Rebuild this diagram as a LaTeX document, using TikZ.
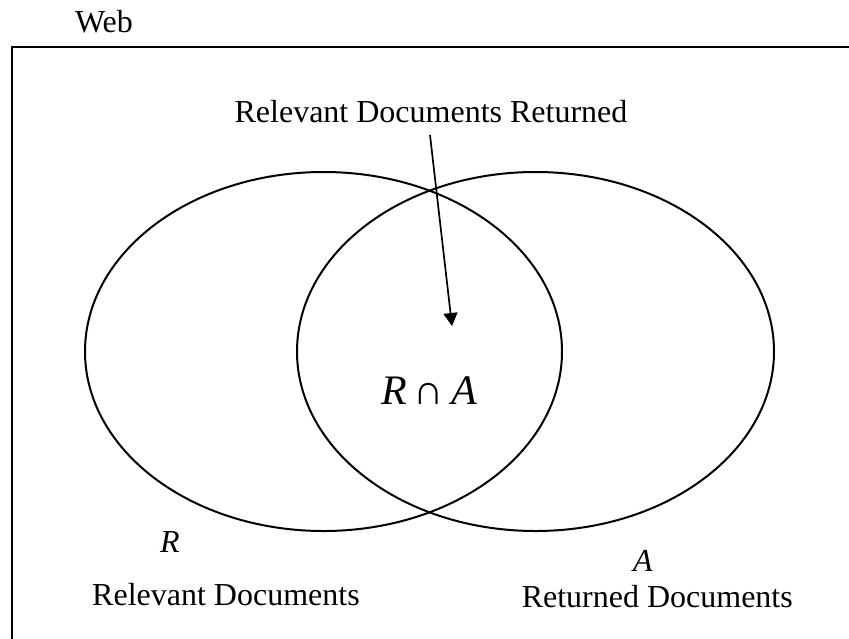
\documentclass[tikz,border=0pt]{standalone}
\usepackage{fontspec}
\setmainfont{Liberation Serif}
\usetikzlibrary{shapes.geometric,arrows.meta}
\begin{document}
\begin{tikzpicture}[x=1pt,y=-1pt,
  lbl/.style={inner sep=0pt,font=\fontsize{32}{38}\selectfont},
  setell/.style={draw,line width=2pt,ellipse,inner sep=0pt,minimum width=477pt,minimum height=359pt},
  ptr/.style={line width=1.7pt,-{Triangle[length=13pt,width=14pt]}}]
\useasboundingbox (0,0) rectangle (849,638);
\draw[line width=2.2pt] (12,47) rectangle (870,660);
\node[lbl] (web) at (104,22) {Web};
\node[setell] (rel) at (323.5,351.5) {};
\node[setell] (ret) at (535.5,351.5) {};
\node[lbl,anchor=base] (rdr) at (431,122) {Relevant Documents Returned};
\coordinate (astart) at (430,135);
\coordinate (aend) at (452,326);
\draw[ptr] (astart) -- (aend);
\node[lbl,font=\fontsize{42}{48}\selectfont] (ra) at (429,391) {\textit{R}\,∩\,\textit{A}};
\node[lbl] (r) at (170,542) {\textit{R}};
\node[lbl] (a) at (643,561) {\textit{A}};
\node[lbl,anchor=base west] (reld) at (92,605) {Relevant Documents};
\node[lbl,anchor=base east] (retd) at (793,607) {Returned Documents};
\end{tikzpicture}
\end{document}
